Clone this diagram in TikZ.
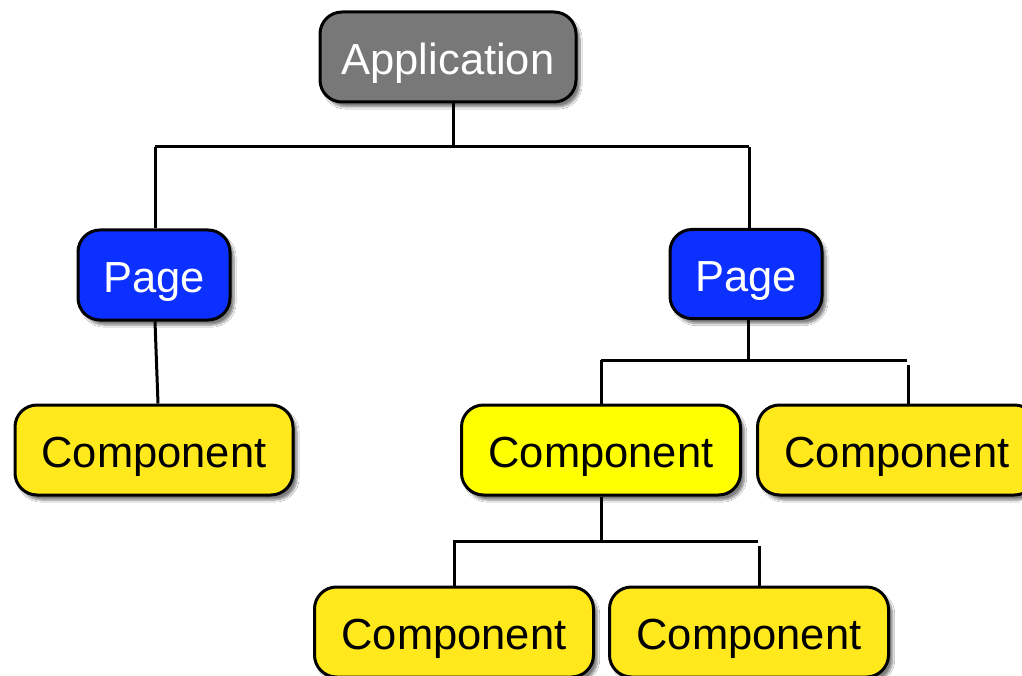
\documentclass[tikz,border=0pt]{standalone}
\usepackage{fontspec}
\setmainfont{Liberation Sans}
\usetikzlibrary{shadows.blur}
\definecolor{appgray}{RGB}{120,120,120}
\definecolor{pageblue}{RGB}{12,48,255}
\definecolor{compyellow}{RGB}{255,232,28}
\definecolor{brightyellow}{RGB}{255,255,0}
\begin{document}
\begin{tikzpicture}[x=1pt,y=-1pt,
  box/.style={draw=black, line width=3pt, rounded corners=22pt, minimum height=90pt,
    inner sep=0pt, text height=35pt, text depth=0pt, font=\fontsize{43.5}{50}\selectfont,
    blur shadow={shadow xshift=4pt, shadow yshift=-5pt, shadow blur steps=8, shadow opacity=50}},
  appbox/.style={box, fill=appgray, text=white, minimum width=256pt},
  pagebox/.style={box, fill=pageblue, text=white, minimum width=152pt},
  compbox/.style={box, fill=compyellow, text=black, minimum width=279pt},
  link/.style={draw=black, line width=3pt}]
\clip (0,0) rectangle (1022,676);
\fill[white] (0,0) rectangle (1022,676);
% junction coordinates
\coordinate (t1) at (453,147);
\coordinate (j1l) at (155,147);
\coordinate (j1r) at (749,147);
\coordinate (t2) at (748,360);
\coordinate (j2l) at (601,360);
\coordinate (j2r) at (907,360);
\coordinate (j2rb) at (908,365);
\coordinate (t3) at (601,541);
\coordinate (j3l) at (453,541);
\coordinate (j3lv) at (454,541);
\coordinate (j3r) at (758,541);
\coordinate (j3rb) at (759,546);
% nodes
\node[appbox] (app) at (448,57) {Application};
\node[pagebox] (page1) at (154,275) {Page};
\node[pagebox, minimum height=89pt] (page2) at (746,274) {Page};
\node[compbox, minimum width=278pt] (c1) at (154,450) {Component};
\node[compbox, fill=brightyellow] (c2) at (601,450) {Component};
\node[compbox] (c3) at (897,450) {Component};
\node[compbox] (c4) at (454,632) {Component};
\node[compbox] (c5) at (749,632) {Component};
% connectors
\path[link] (app.south -| t1) -- (t1);
\path[link] (j1l) -- (j1r);
\path[link] (j1l) -- (page1.north -| j1l);
\path[link] (j1r) -- (page2.north -| j1r);
\path[link] ([xshift=1pt]page1.south) -- ([xshift=4pt]c1.north);
\path[link] (page2.south -| t2) -- (t2);
\path[link] (j2l) -- (j2r);
\path[link] (j2l) -- (c2.north -| j2l);
\path[link] (j2rb) -- (c3.north -| j2rb);
\path[link] (c2.south -| t3) -- (t3);
\path[link] (j3l) -- (j3r);
\path[link] (j3lv) -- (c4.north -| j3lv);
\path[link] (j3rb) -- (c5.north -| j3rb);
\end{tikzpicture}
\end{document}
